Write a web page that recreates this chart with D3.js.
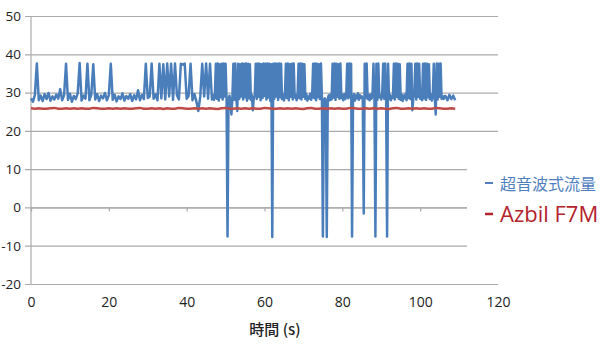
<!DOCTYPE html>
<html><head><meta charset="utf-8">
<script src="https://cdn.jsdelivr.net/npm/d3@7"></script>
<style>
html,body{margin:0;padding:0;background:#fff;overflow:hidden;}
svg{display:block;}
</style></head>
<body>
<svg id="chart" width="600" height="349"></svg>
<script>
// ---- data ----
const xTicks = [0, 20, 40, 60, 80, 100, 120];
const yTicks = [-20, -10, 0, 10, 20, 30, 40, 50];
const seriesNames = ["超音波式流量", "Azbil F7M"];
const xTitle = "時間 (s)";

// ultrasonic flowmeter, part A: t = 0 … 46 s, every 0.5 s
const ultraAStart = 0, ultraAStep = 0.5;
const ultraA = [
28.5,27.6,29.4,37.6,28.0,29.2,27.8,29.6,28.3,29.9,
27.9,29.0,28.2,29.5,28.4,30.9,28.0,29.3,37.5,28.1,
29.7,27.6,29.1,28.3,29.8,37.7,27.9,29.2,28.4,37.5,
28.0,29.5,37.4,28.2,29.6,27.8,29.2,28.5,29.9,28.0,
29.3,37.5,28.1,29.4,27.7,29.0,28.3,29.8,27.9,29.1,
28.4,29.6,27.8,29.3,28.2,30.6,28.0,29.4,28.3,37.5,
28.6,29.0,37.6,28.4,29.5,28.0,37.5,28.5,37.4,28.2,
37.6,29.0,37.5,28.1,37.6,29.3,28.2,37.5,37.3,37.6,
28.4,29.1,37.5,28.0,29.6,27.7,25.2,29.0,37.5,29.0,
37.6,28.4,37.5
];
// part B: t = 46.5 … 106.25 s, every 0.25 s
const ultraBStart = 46.5, ultraBStep = 0.25;
const ultraB = [
28.2,29.3,28.1,29.0,37.5,28.4,37.6,27.9,
37.4,28.8,37.5,28.2,37.6,29.0,37.5,28.3,
-7.6,28.0,29.2,27.8,24.3,28.6,37.5,28.1,
37.6,28.7,25.2,37.5,28.3,37.4,29.0,37.6,
28.2,37.5,28.8,37.6,27.9,37.5,28.5,37.4,
28.1,29.4,25.4,28.7,29.1,37.5,28.3,37.6,
28.9,37.5,28.0,37.4,28.6,37.6,29.1,37.5,
28.2,37.6,28.7,37.5,27.8,37.4,-7.7,37.5,
28.4,37.6,29.0,37.5,28.1,37.6,28.8,37.5,
28.3,29.5,27.9,29.2,37.5,28.6,37.6,28.0,
37.4,28.9,37.5,28.2,37.6,28.7,29.4,28.0,
29.1,37.5,28.5,37.6,28.2,37.5,28.9,37.4,
28.3,29.6,27.9,29.0,28.4,29.7,28.1,29.3,
37.5,28.6,37.6,28.0,37.5,28.8,37.4,28.3,
37.6,28.9,-7.6,27.9,28.5,27.6,-7.7,28.4,
29.3,28.0,29.5,28.2,37.5,28.7,37.6,28.1,
37.5,28.9,37.4,28.4,37.6,28.6,29.4,28.0,
29.6,28.3,29.1,37.5,28.5,37.6,28.8,37.5,
-7.6,28.4,29.6,27.9,29.2,28.5,29.8,28.1,
29.3,28.6,29.0,28.2,-1.6,37.5,28.7,37.6,
28.3,29.4,28.0,29.5,28.4,29.2,37.5,28.6,
-7.6,37.5,28.1,37.6,28.8,29.3,28.2,29.6,
37.5,28.4,37.6,28.7,-7.6,37.5,28.3,29.4,
28.0,29.1,28.6,37.5,28.2,37.6,28.9,37.5,
28.4,37.4,28.1,29.5,27.8,29.2,28.5,29.7,
28.0,37.5,28.6,37.6,28.3,37.5,25.4,28.7,
29.3,37.5,28.2,37.6,28.9,37.5,28.4,29.6,
28.0,37.5,28.5,37.6,28.1,37.5,28.8,37.4,
28.3,29.5,27.9,29.2,37.5,28.6,24.3,37.6,
28.2,37.5,28.9,37.6,28.4,29.0,28.3,29.1
];
// part C: t = 106.5 … 109 s, every 0.5 s
const ultraCStart = 106.5, ultraCStep = 0.5;
const ultraC = [29.1,28.0,29.4,28.3,29.2,28.0];

// Azbil F7M, every 1 s from t = 0
const azbilStart = 0, azbilStep = 1;
const azbil = [
25.9,25.8,25.9,25.8,25.8,25.9,26.0,25.8,25.8,25.9,
25.8,25.9,25.8,25.9,25.8,25.8,26.0,25.9,25.8,25.8,
25.9,25.8,25.9,25.8,25.9,25.8,25.8,25.9,26.0,25.8,
25.8,25.9,25.8,25.9,25.7,25.9,25.8,25.8,26.0,25.9,
25.8,25.8,25.9,25.8,25.9,25.8,25.9,25.8,25.7,25.9,
26.0,25.8,25.8,25.9,25.8,25.9,25.8,25.9,25.8,25.8,
26.0,25.9,25.8,25.8,25.9,25.8,25.9,25.8,25.9,25.8,
25.7,25.9,26.0,25.8,25.8,25.9,25.8,25.9,25.8,25.9,
25.8,25.8,26.0,25.9,25.8,25.8,25.9,25.8,25.9,25.8,
25.9,25.8,25.7,25.9,26.0,25.8,25.8,25.9,25.8,25.9,
25.8,25.9,25.8,25.8,26.0,25.9,25.8,25.8,25.9,25.8
];
const colors = ["#4A7EBB", "#BE4B48"];
const legendTextColors = ["#4F7FBE", "#B3232A"];

// ---- drawing ----
const svg = d3.select("#chart");
const pLeft = 31, pRight = 498, pTop = 16, pBottom = 284;
const x = d3.scaleLinear().domain([0, 120]).range([pLeft, pRight]);
const y = d3.scaleLinear().domain([-20, 50]).range([pBottom, pTop]);
const numFont = "'Open Sans', 'Noto Sans', sans-serif";
const grid = "#ABABAB";

// gridlines + y labels
const yAxis = svg.append("g").attr("transform", `translate(${pRight},0)`)
  .call(d3.axisLeft(y).tickValues(yTicks).tickSize(pRight - pLeft + 6).tickPadding(4)
    .tickFormat(d => String(d)));
yAxis.select(".domain").remove();
yAxis.selectAll(".tick line").attr("stroke", grid).attr("stroke-width", 1.2);
yAxis.selectAll("text").attr("fill", "#222").style("font-family", numFont).style("font-size", "13.5px");

// vertical axis line
svg.append("line").attr("x1", pLeft).attr("x2", pLeft).attr("y1", y(50)).attr("y2", y(-20))
  .attr("stroke", grid).attr("stroke-width", 1.2);

// horizontal axis at 0 with tick marks
const x0Axis = svg.append("g").attr("transform", `translate(0,${y(0)})`)
  .call(d3.axisBottom(x).tickValues(xTicks).tickSize(4).tickFormat(""));
x0Axis.select(".domain").attr("stroke", grid).attr("stroke-width", 1.2);
x0Axis.selectAll(".tick line").attr("stroke", grid).attr("stroke-width", 1.2);

// bottom labels
const xAxis = svg.append("g").attr("transform", `translate(0,${pBottom})`)
  .call(d3.axisBottom(x).tickValues(xTicks).tickSize(0).tickPadding(13));
xAxis.select(".domain").remove();
xAxis.selectAll("text").attr("fill", "#222").style("font-family", numFont).style("font-size", "14px");

// x title
svg.append("text").attr("x", 275).attr("y", 335).attr("text-anchor", "middle")
  .style("font-family", "'Noto Sans CJK JP', sans-serif").style("font-size", "15px")
  .style("font-weight", "500").attr("fill", "#222").text(xTitle);

// series
const line = d3.line().x(d => x(d[0])).y(d => y(d[1]));
const toPts = (arr, start, step) => arr.map((v, i) => [start + i * step, v]);
const ultraPts = [].concat(
  toPts(ultraA, ultraAStart, ultraAStep),
  toPts(ultraB, ultraBStart, ultraBStep),
  toPts(ultraC, ultraCStart, ultraCStep));
const azbilPts = toPts(azbil, azbilStart, azbilStep);
svg.append("path").datum(ultraPts).attr("d", line).attr("fill", "none")
  .attr("stroke", colors[0]).attr("stroke-width", 2.5).attr("stroke-linejoin", "round");
svg.append("path").datum(azbilPts).attr("d", line).attr("fill", "none")
  .attr("stroke", colors[1]).attr("stroke-width", 2.5).attr("stroke-linejoin", "round");

// legend (white box covering gridlines)
svg.append("rect").attr("x", 467).attr("y", 150).attr("width", 140).attr("height", 110).attr("fill", "#fff");
const leg = [
  {name: seriesNames[0], y: 190, size: 16, ky: 183, kw: 2},
  {name: seriesNames[1], y: 222, size: 22, ky: 214, kw: 2.5}
];
leg.forEach((d, i) => {
  svg.append("line").attr("x1", 485).attr("x2", 493).attr("y1", d.ky).attr("y2", d.ky)
    .attr("stroke", legendTextColors[i]).attr("stroke-width", d.kw);
  svg.append("text").attr("x", 500).attr("y", d.y)
    .style("font-family", i === 0 ? "'Noto Sans CJK JP', sans-serif" : "'Open Sans', 'Noto Sans', sans-serif")
    .style("font-size", d.size + "px").attr("fill", legendTextColors[i]).text(d.name);
});
</script>
</body></html>
